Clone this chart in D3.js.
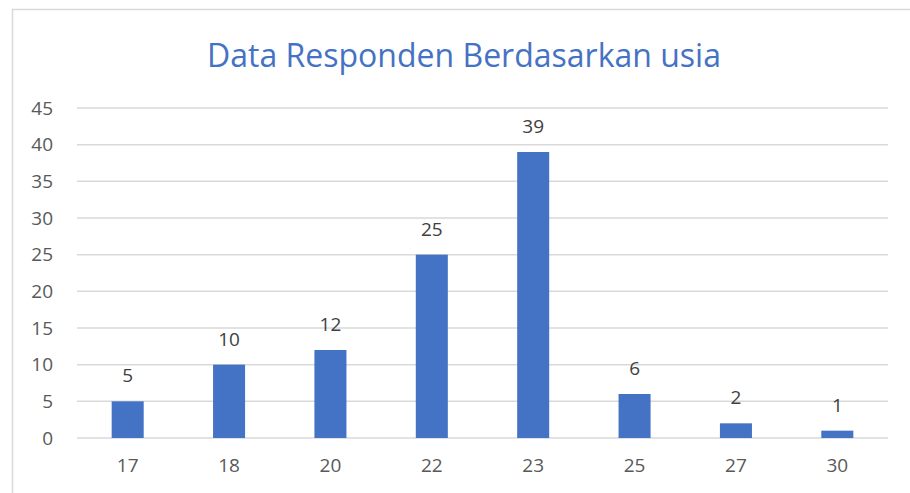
<!DOCTYPE html>
<html>
<head>
<meta charset="utf-8">
<script src="https://cdn.jsdelivr.net/npm/d3@7"></script>
<style>
  body { margin:0; background:#fff; }
  text { font-family: "Open Sans", "Noto Sans", sans-serif; }
</style>
</head>
<body>
<div id="chart-area"></div>
<script>
// usia responden
var ages = ["17","18","20","22","23","25","27","30"];
var counts = [5, 10, 12, 25, 39, 6, 2, 1];
var yTicks = [0,5,10,15,20,25,30,35,40,45];

var W = 910, H = 493;
var margin = { top:108, right:22, bottom:55, left:77 };
var width = W - margin.left - margin.right;
var height = H - margin.top - margin.bottom;

var svg = d3.select("#chart-area")
	.append("svg")
		.attr("width", W)
		.attr("height", H);

// chart border
svg.append("rect")
	.attr("x", 12.5).attr("y", 9.5)
	.attr("width", 920).attr("height", 520)
	.attr("fill", "none")
	.attr("stroke", "#d9d9d9")
	.attr("stroke-width", 1.5);

svg.append("text")
	.attr("x", 464)
	.attr("y", 67)
	.attr("text-anchor", "middle")
	.attr("font-size", "32px")
	.attr("fill", "#4472c4")
	.text("Data Responden Berdasarkan usia");

var g = svg.append("g")
	.attr("transform", "translate(" + margin.left + "," + margin.top + ")");

var y = d3.scaleLinear()
	.domain([0, 45])
	.range([height, 0]);

var x = d3.scaleBand()
	.domain(ages)
	.range([0, width])
	.paddingInner(0.684)
	.paddingOuter(0.342);

// gridlines
g.selectAll(".grid")
	.data(yTicks)
	.enter().append("line")
		.attr("x1", 0).attr("x2", width)
		.attr("y1", function(d){ return y(d); })
		.attr("y2", function(d){ return y(d); })
		.attr("stroke", "#d9d9d9")
		.attr("stroke-width", 1.5);

var leftAxis = d3.axisLeft(y).tickValues(yTicks).tickSize(0).tickPadding(24);
var ga = g.append("g").attr("class", "left axis").call(leftAxis);
ga.select(".domain").remove();
ga.selectAll("text").attr("font-size", "19px").attr("fill", "#595959")
	.attr("font-family", "Open Sans, sans-serif");

var bottomAxis = d3.axisBottom(x).tickSize(0).tickPadding(21);
var gb = g.append("g").attr("class", "bottom axis")
	.attr("transform", "translate(0," + height + ")")
	.call(bottomAxis);
gb.select(".domain").remove();
gb.selectAll("text").attr("font-size", "19px").attr("fill", "#595959")
	.attr("font-family", "Open Sans, sans-serif");

var rows = ages.map(function(a, i){ return { age:a, n:counts[i] }; });

g.selectAll("rect.bar")
	.data(rows)
	.enter().append("rect")
		.attr("class", "bar")
		.attr("x", function(d){ return x(d.age); })
		.attr("y", function(d){ return y(d.n); })
		.attr("width", x.bandwidth())
		.attr("height", function(d){ return height - y(d.n); })
		.attr("fill", "#4472c4");

g.selectAll("text.lbl")
	.data(rows)
	.enter().append("text")
		.attr("class", "lbl")
		.attr("x", function(d){ return x(d.age) + x.bandwidth()/2; })
		.attr("y", function(d){ return y(d.n) - 19; })
		.attr("text-anchor", "middle")
		.attr("font-size", "19px")
		.attr("fill", "#404040")
		.text(function(d){ return d.n; });
</script>
</body>
</html>
